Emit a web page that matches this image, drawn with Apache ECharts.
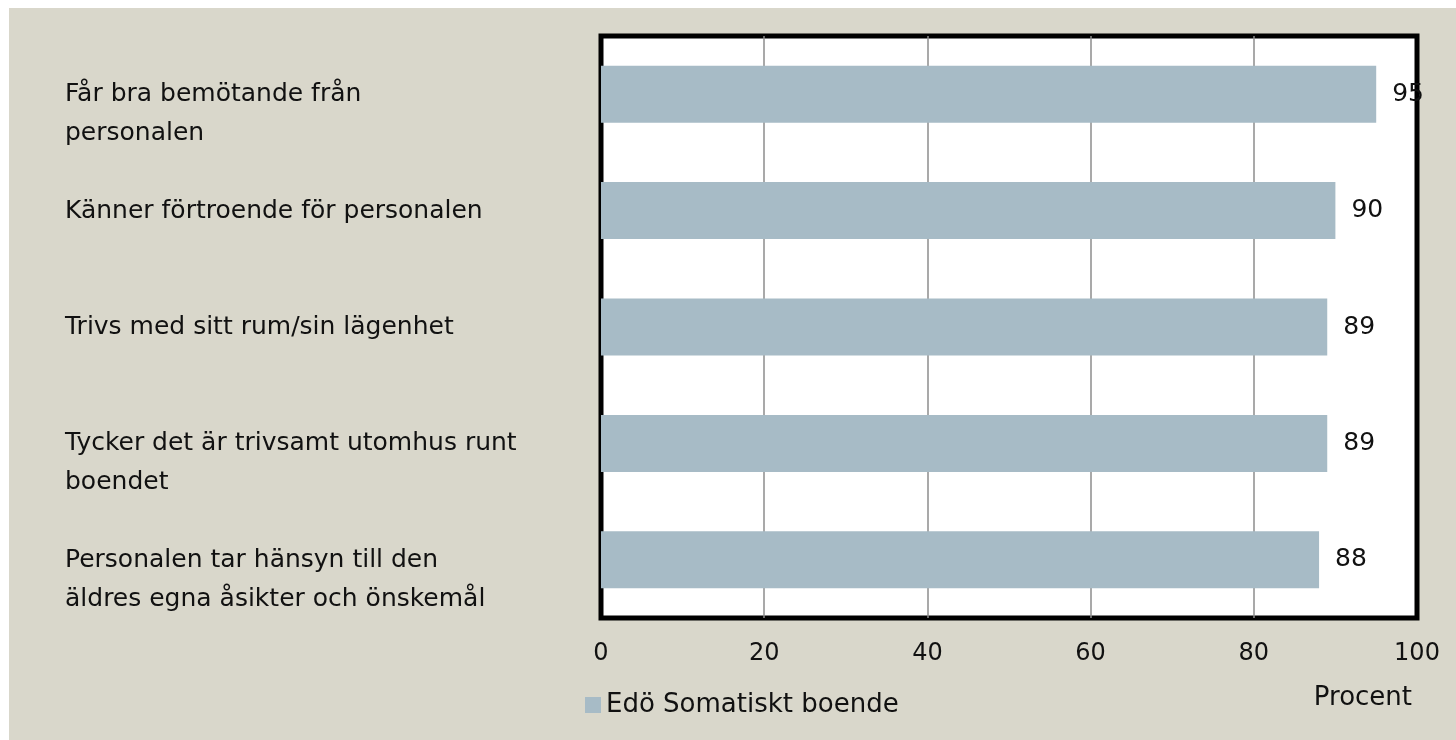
<!DOCTYPE html>
<html><head><meta charset="utf-8">
<script src="https://cdn.jsdelivr.net/npm/echarts@6/dist/echarts.min.js"></script>
<style>
html,body{margin:0;padding:0;background:#ffffff;}
#wrap{position:absolute;left:9px;top:8px;width:1447px;height:732px;background:#d9d7cb;}
#c{position:absolute;left:0;top:0;width:1456px;height:740px;}
</style></head>
<body>
<div id="wrap"></div>
<div id="c"></div>
<script>
var categories = [
  'Får bra bemötande från\npersonalen',
  'Känner förtroende för personalen',
  'Trivs med sitt rum/sin lägenhet',
  'Tycker det är trivsamt utomhus runt\nboendet',
  'Personalen tar hänsyn till den\näldres egna åsikter och önskemål'
];
var values = [95, 90, 89, 89, 88];
var seriesName = 'Edö Somatiskt boende';
var axisName = 'Procent';
var xTicks = [0, 20, 40, 60, 80, 100];

var FONT = '"DejaVu Sans", sans-serif';
var chart = echarts.init(document.getElementById('c'), null, {renderer:'canvas'});
chart.setOption({
  backgroundColor: 'transparent',
  animation: false,
  grid: {left: 601, top: 36, right: 39, bottom: 122, show: true, backgroundColor: '#ffffff', borderColor: '#000000', borderWidth: 5, containLabel: false},
  legend: {
    left: 580, top: 687, itemWidth: 16, itemHeight: 16, itemGap: 7,
    textStyle: {fontFamily: FONT, fontSize: 26, color: '#111'},
    data: [{name: seriesName, icon: 'rect'}]
  },
  xAxis: {
    type: 'value', min: xTicks[0], max: xTicks[xTicks.length-1], interval: 20,
    axisLine: {show: false}, axisTick: {show: false},
    splitLine: {show: true, showMinLine: false, showMaxLine: false, lineStyle: {color: '#8c8c8c', width: 1.5}},
    axisLabel: {fontFamily: FONT, fontSize: 24, color: '#111', margin: 24},
    name: axisName, nameLocation: 'end', nameGap: -5,
    nameTextStyle: {fontFamily: FONT, fontSize: 26, color: '#111', align: 'right', verticalAlign: 'top', padding: [67, 0, 0, 0]}
  },
  yAxis: {
    type: 'category', data: categories, inverse: true,
    axisLine: {show: false}, axisTick: {show: false}, splitLine: {show: false},
    axisLabel: {fontFamily: FONT, fontSize: 25, color: '#111', align: 'left', verticalAlign: 'top', margin: 536, lineHeight: 39, padding: [-19, 0, 0, 0]}
  },
  series: [{
    name: seriesName, type: 'bar', data: values, barWidth: 57,
    itemStyle: {color: '#a7bbc6'},
    label: {show: true, position: 'right', distance: 16, fontFamily: FONT, fontSize: 25, color: '#111'}
  }]
});
</script>
</body></html>
